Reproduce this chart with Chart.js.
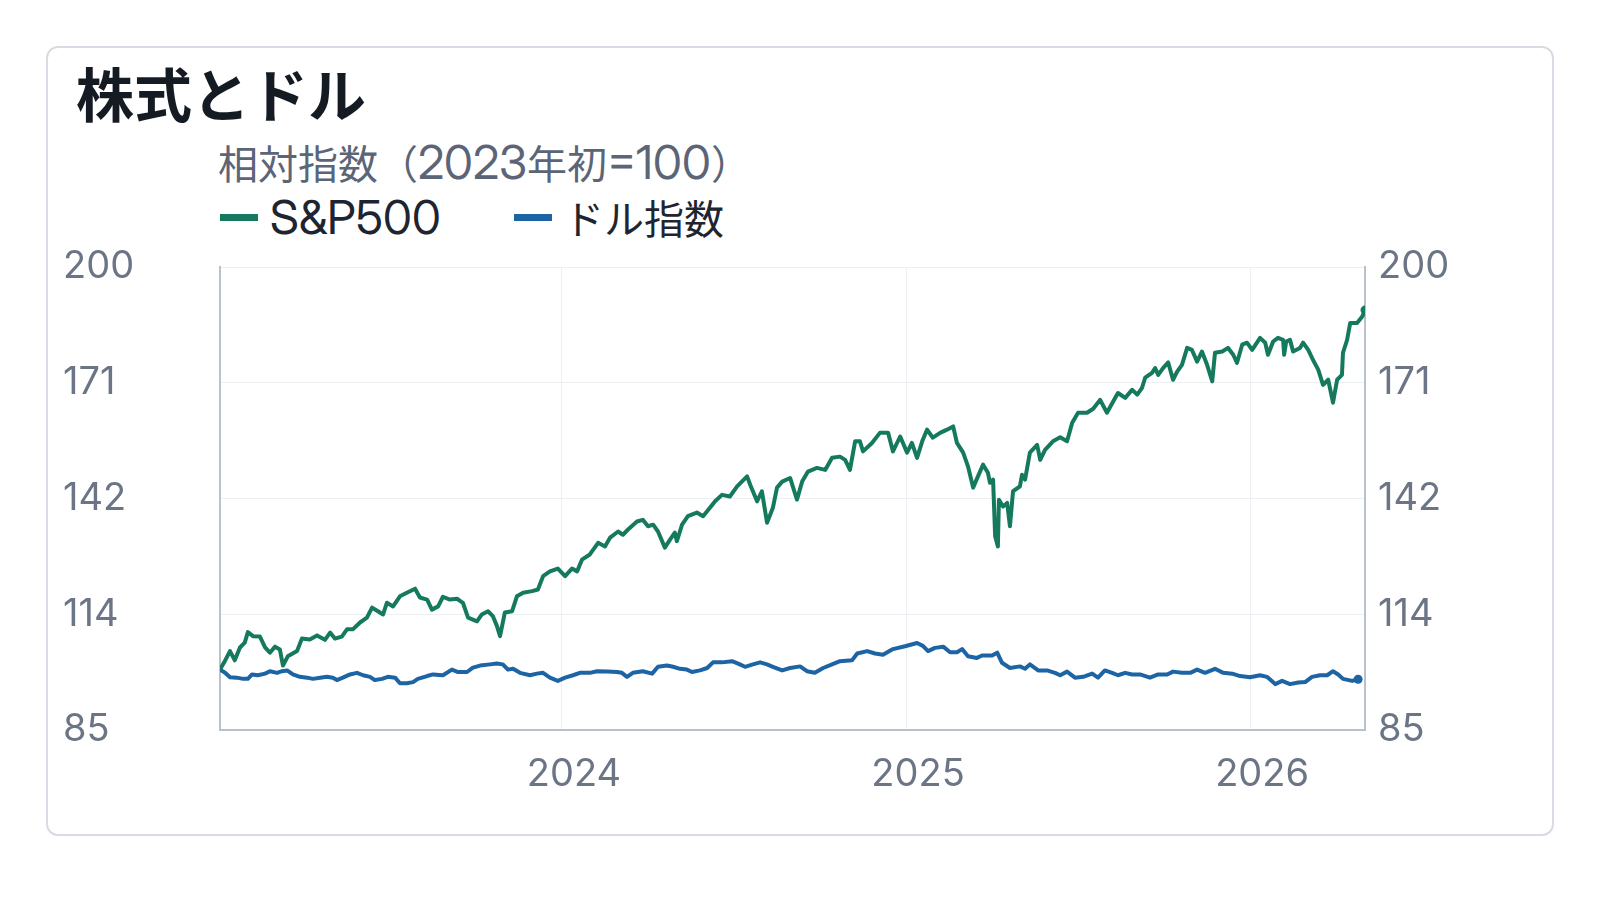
<!DOCTYPE html>
<html><head><meta charset="utf-8">
<script src="https://cdn.jsdelivr.net/npm/chart.js@4.4.1/dist/chart.umd.min.js"></script>
<style>
@font-face{font-family:"InterWide";src:local("Inter"),local("Inter Regular"),local("Inter-Regular");size-adjust:117%;}
html,body{margin:0;padding:0;background:#fff;width:1600px;height:900px;overflow:hidden;font-family:Inter,"Noto Sans CJK JP",sans-serif;}
#card{position:absolute;left:46px;top:46px;width:1508px;height:790px;border:2px solid #d6dbe4;border-radius:12px;box-sizing:border-box;}
#title{position:absolute;left:76px;top:63px;font-family:"Noto Sans CJK JP",sans-serif;font-size:58px;font-weight:700;line-height:1;color:#151b23;white-space:nowrap;}
#subtitle{position:absolute;left:218px;top:142px;font-family:"InterWide",Inter,"Noto Sans CJK JP",sans-serif;font-size:40px;line-height:40px;color:#5b6577;white-space:nowrap;}
#legend{position:absolute;left:220px;top:197px;display:flex;font-family:"InterWide",Inter,"Noto Sans CJK JP",sans-serif;font-size:40px;line-height:40px;color:#1e2530;white-space:nowrap;}
#legend .item{display:flex;align-items:center;margin-right:73px;}
#legend .sw{width:38px;height:7px;margin-right:12px;}
canvas{position:absolute;left:0;top:0;}
</style></head>
<body>
<div id="card"></div>
<div id="title">株式とドル</div>
<div id="subtitle">相対指数（2023年初=100）</div>
<div id="legend"></div>
<canvas id="c" width="1600" height="900"></canvas>
<script>
const seriesNames = ['S&P500', 'ドル指数'];
const seriesColors = ['#157a5d', '#1c64a3'];
const xTickValues = [2024, 2025, 2026];
const xTickLabels = ['2024', '2025', '2026'];
const yTickValues = [85, 113.75, 142.5, 171.25, 200];
const yTickLabels = ['85', '114', '142', '171', '200'];

const spTimes = [2023.006,2023.020,2023.035,2023.049,2023.064,2023.078,2023.087,2023.102,2023.122,2023.137,2023.151,2023.166,2023.180,2023.189,2023.203,2023.230,2023.244,2023.267,2023.288,2023.311,2023.326,2023.340,2023.360,2023.375,2023.392,2023.413,2023.433,2023.448,2023.465,2023.480,2023.491,2023.509,2023.529,2023.549,2023.573,2023.587,2023.608,2023.622,2023.640,2023.654,2023.674,2023.695,2023.712,2023.727,2023.753,2023.767,2023.785,2023.799,2023.811,2023.820,2023.834,2023.855,2023.869,2023.887,2023.913,2023.930,2023.945,2023.965,2023.988,2024.009,2024.029,2024.044,2024.058,2024.081,2024.105,2024.125,2024.140,2024.163,2024.177,2024.192,2024.218,2024.235,2024.250,2024.265,2024.279,2024.299,2024.314,2024.328,2024.334,2024.349,2024.366,2024.392,2024.410,2024.430,2024.445,2024.465,2024.488,2024.509,2024.538,2024.547,2024.567,2024.581,2024.596,2024.613,2024.625,2024.640,2024.663,2024.683,2024.698,2024.715,2024.741,2024.765,2024.785,2024.808,2024.823,2024.837,2024.852,2024.866,2024.875,2024.901,2024.924,2024.948,2024.962,2024.983,2025.003,2025.017,2025.032,2025.047,2025.061,2025.078,2025.099,2025.119,2025.137,2025.148,2025.166,2025.180,2025.195,2025.209,2025.224,2025.238,2025.244,2025.253,2025.259,2025.267,2025.270,2025.282,2025.294,2025.302,2025.311,2025.331,2025.337,2025.346,2025.360,2025.381,2025.390,2025.404,2025.427,2025.448,2025.468,2025.483,2025.500,2025.526,2025.544,2025.564,2025.584,2025.602,2025.616,2025.637,2025.657,2025.672,2025.686,2025.695,2025.715,2025.724,2025.733,2025.747,2025.762,2025.776,2025.788,2025.802,2025.817,2025.831,2025.846,2025.860,2025.875,2025.890,2025.898,2025.919,2025.936,2025.951,2025.962,2025.977,2025.991,2026.006,2026.029,2026.044,2026.052,2026.067,2026.081,2026.096,2026.099,2026.105,2026.116,2026.125,2026.145,2026.154,2026.169,2026.183,2026.198,2026.212,2026.227,2026.241,2026.253,2026.267,2026.270,2026.282,2026.291,2026.311,2026.326,2026.334];
const spValues = [100.0,102.1,104.6,102.3,105.5,106.7,109.3,108.3,108.2,105.5,104.2,105.7,105.0,101.0,103.3,104.6,107.7,107.5,108.5,107.4,109.2,107.7,108.2,110.0,110.0,111.7,112.9,115.4,114.5,113.7,116.6,115.7,118.2,119.1,120.1,117.9,117.4,114.9,115.7,118.1,117.4,117.6,116.6,112.9,112.0,113.7,114.5,113.3,110.8,108.3,114.2,114.5,118.2,119.1,119.5,119.9,123.2,124.4,125.1,123.2,125.1,124.4,127.3,128.6,131.5,130.6,132.8,134.3,133.5,134.8,136.8,137.2,135.6,136.0,134.3,130.3,132.3,134.0,131.9,136.0,138.1,139.0,138.1,140.2,141.8,143.4,143.0,145.5,148.0,145.9,141.8,144.3,136.5,140.2,145.2,146.7,147.6,142.2,146.7,149.2,150.1,149.6,152.6,152.9,152.1,149.6,156.7,156.7,154.2,156.3,158.8,158.8,154.2,157.9,153.9,156.3,152.6,156.7,159.6,157.6,158.8,159.6,160.4,156.3,153.9,150.5,145.2,148.0,150.9,148.9,146.4,147.2,133.1,130.6,142.2,140.5,141.4,135.6,144.3,145.5,148.4,147.2,153.9,155.8,152.1,154.6,156.7,157.7,156.7,161.3,163.8,163.8,164.8,167.0,163.8,166.6,168.7,167.5,169.5,168.3,170.0,172.5,173.7,174.9,173.2,174.9,176.3,172.0,174.0,175.7,179.9,179.4,176.5,179.0,175.7,171.6,178.7,179.0,179.9,178.2,176.2,180.7,181.2,179.4,182.4,181.2,178.2,181.5,182.4,181.9,178.2,181.5,181.9,179.0,179.9,181.2,179.4,176.9,174.5,170.7,172.0,166.3,172.0,173.2,178.7,181.9,186.1,186.1,187.7,189.3];

const dxyTimes = [2023.006,2023.020,2023.035,2023.055,2023.073,2023.087,2023.099,2023.116,2023.137,2023.151,2023.172,2023.186,2023.201,2023.218,2023.238,2023.259,2023.276,2023.297,2023.317,2023.334,2023.346,2023.363,2023.384,2023.404,2023.422,2023.442,2023.456,2023.477,2023.494,2023.515,2023.529,2023.549,2023.567,2023.581,2023.608,2023.625,2023.654,2023.680,2023.698,2023.724,2023.741,2023.762,2023.791,2023.811,2023.828,2023.843,2023.858,2023.878,2023.907,2023.927,2023.945,2023.965,2023.988,2024.009,2024.032,2024.052,2024.081,2024.102,2024.131,2024.160,2024.174,2024.189,2024.206,2024.235,2024.262,2024.279,2024.305,2024.323,2024.343,2024.363,2024.378,2024.401,2024.422,2024.439,2024.465,2024.494,2024.512,2024.532,2024.555,2024.576,2024.596,2024.613,2024.640,2024.663,2024.692,2024.712,2024.735,2024.759,2024.785,2024.808,2024.843,2024.858,2024.887,2024.910,2024.933,2024.962,2024.997,2025.032,2025.049,2025.064,2025.084,2025.108,2025.128,2025.148,2025.163,2025.180,2025.206,2025.221,2025.250,2025.265,2025.279,2025.302,2025.331,2025.346,2025.360,2025.384,2025.410,2025.433,2025.448,2025.468,2025.491,2025.515,2025.541,2025.558,2025.578,2025.599,2025.616,2025.637,2025.657,2025.680,2025.709,2025.733,2025.759,2025.776,2025.802,2025.826,2025.846,2025.869,2025.898,2025.922,2025.948,2025.971,2026.000,2026.029,2026.049,2026.073,2026.093,2026.116,2026.140,2026.160,2026.180,2026.203,2026.224,2026.241,2026.256,2026.270,2026.297,2026.314];
const dxyValues = [100.0,99.3,98.1,98.0,97.7,97.7,98.8,98.6,99.0,99.6,99.2,99.6,99.8,98.8,98.2,98.0,97.7,98.0,98.2,98.0,97.4,98.0,98.8,99.2,98.6,98.2,97.4,97.7,98.2,98.0,96.6,96.6,96.9,97.7,98.4,98.8,98.6,100.0,99.4,99.4,100.5,101.0,101.3,101.5,101.3,100.0,100.2,99.2,98.6,99.0,99.2,98.0,97.2,98.0,98.6,99.2,99.2,99.6,99.5,99.4,99.2,98.2,99.2,99.6,99.0,100.7,101.0,100.7,100.2,100.0,99.4,99.8,100.4,101.8,101.8,102.1,101.5,100.7,101.3,101.8,101.3,100.7,99.8,100.4,100.8,99.6,99.2,100.4,101.3,102.1,102.3,104.0,104.6,104.0,103.7,105.1,105.8,106.6,105.9,104.6,105.4,105.7,104.3,104.3,105.1,103.3,102.9,103.5,103.5,104.2,101.7,100.4,100.8,100.2,101.3,99.8,99.8,99.2,98.6,99.5,98.0,98.2,99.0,98.0,99.8,99.2,98.6,99.2,98.8,98.8,98.0,98.8,98.8,99.5,99.2,99.2,100.0,99.2,100.2,99.2,99.0,98.4,98.1,98.6,98.2,96.4,97.2,96.4,96.8,96.9,98.2,98.6,98.6,99.6,98.8,97.7,97.2,97.6];

const xMin = spTimes[0];
const xMax = spTimes[spTimes.length - 1];

function toPoints(ts, vs) { return ts.map((t, i) => ({ x: t, y: vs[i] })); }
function lastDot(ctx) { return ctx.dataIndex === ctx.dataset.data.length - 1 ? 4.5 : 0; }

// HTML legend built from series
const legendEl = document.getElementById('legend');
seriesNames.forEach((n, i) => {
  const it = document.createElement('div'); it.className = 'item';
  const sw = document.createElement('div'); sw.className = 'sw'; sw.style.background = seriesColors[i];
  const tx = document.createElement('span'); tx.textContent = n;
  it.appendChild(sw); it.appendChild(tx); legendEl.appendChild(it);
});

const tickFont = { family: 'Inter, "Noto Sans CJK JP", sans-serif', size: 38 };
const tickColor = '#6b7586';
const gridColor = '#eceff3';
const borderColor = '#b9c1cd';

new Chart(document.getElementById('c'), {
  type: 'line',
  data: {
    datasets: [
      { label: seriesNames[0], data: toPoints(spTimes, spValues), borderColor: seriesColors[0], backgroundColor: seriesColors[0], borderWidth: 4, borderJoinStyle: 'round', pointRadius: lastDot, pointHoverRadius: 0, pointBorderWidth: 0, tension: 0, yAxisID: 'y' },
      { label: seriesNames[1], data: toPoints(dxyTimes, dxyValues), borderColor: seriesColors[1], backgroundColor: seriesColors[1], borderWidth: 4, borderJoinStyle: 'round', pointRadius: lastDot, pointHoverRadius: 0, pointBorderWidth: 0, tension: 0, yAxisID: 'y' }
    ]
  },
  options: {
    responsive: false,
    devicePixelRatio: 1,
    animation: false,
    events: [],
    layout: { padding: { left: 63, right: 140, top: 267, bottom: 90 } },
    plugins: { legend: { display: false }, title: { display: false }, tooltip: { enabled: false } },
    scales: {
      x: {
        type: 'linear', min: xMin, max: xMax,
        afterBuildTicks: (axis) => { axis.ticks = xTickValues.map(v => ({ value: v })); },
        afterFit: (axis) => { axis.height = 80; },
        ticks: { font: tickFont, color: tickColor, padding: 22, labelOffset: 12, maxRotation: 0, autoSkip: false,
          callback: (v) => { const i = xTickValues.indexOf(v); return i >= 0 ? xTickLabels[i] : ''; } },
        grid: { color: gridColor, lineWidth: 1, drawTicks: false },
        border: { color: borderColor, width: 2 }
      },
      y: {
        type: 'linear', position: 'left', min: 85, max: 200,
        afterBuildTicks: (axis) => { axis.ticks = yTickValues.map(v => ({ value: v })); },
        afterFit: (axis) => { axis.width = 157; },
        ticks: { font: tickFont, color: tickColor, crossAlign: 'far', padding: 0, autoSkip: false,
          callback: (v) => { const i = yTickValues.indexOf(v); return i >= 0 ? yTickLabels[i] : ''; } },
        grid: { color: gridColor, lineWidth: 1, drawTicks: false },
        border: { color: borderColor, width: 2 }
      },
      y1: {
        type: 'linear', position: 'right', min: 85, max: 200,
        afterBuildTicks: (axis) => { axis.ticks = yTickValues.map(v => ({ value: v })); },
        afterFit: (axis) => { axis.width = 95; },
        ticks: { font: tickFont, color: tickColor, padding: 13, autoSkip: false,
          callback: (v) => { const i = yTickValues.indexOf(v); return i >= 0 ? yTickLabels[i] : ''; } },
        grid: { drawOnChartArea: false, drawTicks: false },
        border: { color: borderColor, width: 2 }
      }
    }
  }
});
</script>
</body></html>
